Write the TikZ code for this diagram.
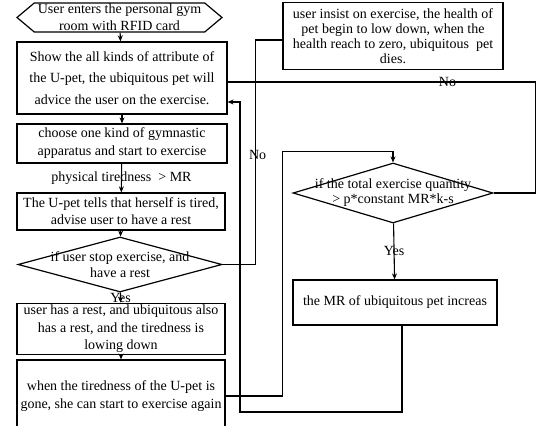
\documentclass[tikz,border=0pt]{standalone}
\usepackage{fontspec}
\setmainfont{Liberation Serif}
\usetikzlibrary{shapes.geometric, shapes.symbols, arrows.meta}
\tikzset{
    box/.style={draw, rectangle, line width=1.2pt, align=center, inner sep=2pt, font=\fontsize{14}{17}\selectfont},
    decision/.style={draw, diamond, line width=1.2pt, inner sep=0pt},
    entry/.style={draw, signal, signal to=west and east, signal pointer angle=80, line width=1.2pt, inner sep=0pt},
    words/.style={align=center, inner sep=0pt, font=\fontsize{14}{16}\selectfont},
    flow/.style={line width=1.1pt, -{Stealth[length=6pt, width=5pt]}},
    link/.style={line width=1.1pt}
}

\begin{document}
\begin{tikzpicture}[x=1pt, y=-1pt]
\useasboundingbox (0,0) rectangle (537,425);
% left column
\node[entry, minimum width=205pt, minimum height=29pt] (start) at (119.5,17.5) {};
\node[words, font=\fontsize{14}{17}\selectfont] (starttxt) at (start) {User enters the personal gym\\room with RFID card};
\node[box, minimum width=210pt, minimum height=72pt, font=\fontsize{14}{21.5}\selectfont] (show) at (122,78) {Show the all kinds of attribute of\\the U-pet, the ubiquitous pet will\\advice the user on the exercise.};
\node[box, minimum width=210pt, minimum height=39pt, font=\fontsize{14}{18}\selectfont] (choose) at (122,143.5) {choose one kind of gymnastic\\apparatus and start to exercise};
\node[box, minimum width=208pt, minimum height=37pt] (tired) at (121,211.5) {The U-pet tells that herself is tired,\\advise user to have a rest};
\node[decision, minimum width=204pt, minimum height=55pt] (stop) at (120,264.5) {};
\node[words] (stoptxt) at (stop) {if user stop exercise, and\\have a rest};
\node[box, minimum width=208pt, minimum height=48pt, font=\fontsize{14}{17.5}\selectfont] (rest) at (121,329) {user has a rest, and ubiquitous also\\has a rest, and the tiredness is\\lowing down};
\node[box, minimum width=208pt, minimum height=72pt, font=\fontsize{14}{18}\selectfont] (again) at (121,396) {when the tiredness of the U-pet is\\gone, she can start to exercise again};
% right column
\node[box, minimum width=220pt, minimum height=67pt, font=\fontsize{14}{15}\selectfont] (dies) at (393,36) {user insist on exercise, the health of\\pet begin to low down, when the\\health reach to zero, ubiquitous \ pet\\dies.};
\node[decision, minimum width=200pt, minimum height=60pt] (total) at (393,193) {};
\node[words, font=\fontsize{14}{15}\selectfont] (totaltxt) at (total) {if the total exercise quantity\\> p*constant MR*k-s};
\node[box, minimum width=204pt, minimum height=45pt] (grow) at (395,302.5) {the MR of ubiquitous pet increas};
\coordinate (back) at (240,412);

\draw[flow] (start) -- (show);
\draw[flow] (show) -- (choose);
\draw[flow] (choose) -- node[words] (tirelabel) {physical tiredness \ > MR} (tired);
\draw[flow] (tired) -- (stop);
\draw[flow] (stop) -- node[words] (yesleft) {Yes} (rest);
\draw[flow, line width=2pt] (rest) -- (again);
\draw[link] (stop.east) -- ++(33,0) |- node[words, pos=0.244, xshift=2pt] (nostop) {No} ([yshift=-4pt]dies.west);
\draw[link] (total.east) -- ++(42,0) |- node[words, pos=0.643] (nototal) {No} ([yshift=-4pt]show.east);
\draw[flow] (again.east) -- ++(57,0) |- ([yshift=11pt]total.north) -- (total.north);
\draw[flow] (total) -- node[words] (yesright) {Yes} (grow);
\draw[flow] ([xshift=7pt]grow.south) |- (back) |- ([yshift=-24pt]show.east);
\end{tikzpicture}
\end{document}
